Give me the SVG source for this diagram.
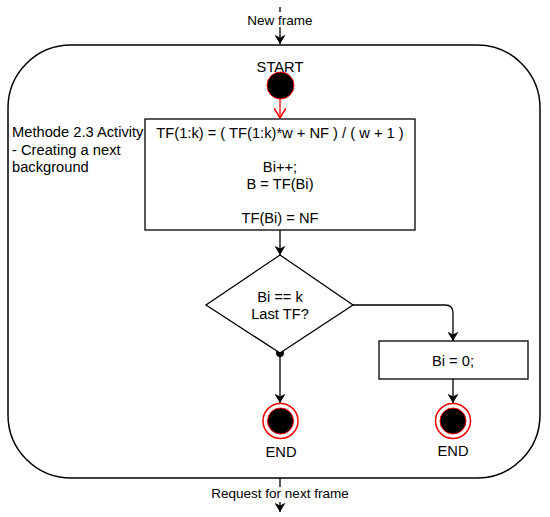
<svg xmlns="http://www.w3.org/2000/svg" width="550" height="517" viewBox="0 0 550 517">
<defs>
<marker id="arr" viewBox="0 0 10 12" refX="10" refY="6" markerWidth="11" markerHeight="11" markerUnits="userSpaceOnUse" orient="auto">
<path d="M0,0 L10,6 L0,12 L3,6 Z" fill="#000"/>
</marker>
<marker id="open" viewBox="0 0 10 12" refX="10" refY="6" markerWidth="10" markerHeight="12" markerUnits="userSpaceOnUse" orient="auto">
<path d="M0,0 L10,6 L0,12" fill="none" stroke="#ff0000" stroke-width="1.5"/>
</marker>
</defs>
<style>
text{font-family:"Liberation Sans",Arial,Helvetica,sans-serif;font-size:14.7px;fill:#000}
.lbl{font-size:13.5px}
.box{fill:#fff;stroke:#000;stroke-width:1.3}
.edge{fill:none;stroke:#000;stroke-width:1.3}
</style>
<rect width="550" height="517" fill="#fff"/>
<g id="container">
<rect x="8" y="45" width="532" height="433" rx="63" ry="63" fill="none" stroke="#000" stroke-width="1.5"/>
<text x="12" y="137">Methode 2.3 Activity</text>
<text x="12" y="155">- Creating a next</text>
<text x="12" y="172">background</text>
</g>
<g id="connectors">
<line class="edge" x1="280" y1="7" x2="280" y2="44" marker-end="url(#arr)"/>
<rect x="244" y="12" width="72" height="15" fill="#fff"/>
<text class="lbl" x="280" y="25" text-anchor="middle">New frame</text>
<line x1="280" y1="99" x2="280" y2="118" stroke="#ff0000" stroke-width="1.3" marker-end="url(#open)"/>
<line class="edge" x1="280" y1="230" x2="280" y2="255" marker-end="url(#arr)"/>
<path class="edge" d="M353,305 H445 Q453,305 453,313 V341" marker-end="url(#arr)"/>
<line class="edge" x1="280" y1="353" x2="280" y2="403" marker-end="url(#arr)"/>
<circle cx="280" cy="353" r="4" fill="#000"/>
<line class="edge" x1="453" y1="379" x2="453" y2="403" marker-end="url(#arr)"/>
<line class="edge" x1="280" y1="478" x2="280" y2="512" marker-end="url(#arr)"/>
<rect x="208" y="487" width="144" height="15" fill="#fff"/>
<text class="lbl" x="280" y="498" text-anchor="middle">Request for next frame</text>
</g>
<g id="start">
<text x="280" y="72" text-anchor="middle">START</text>
<circle cx="280.5" cy="85.5" r="13.5" fill="#000" stroke="#ff0000" stroke-width="1"/>
</g>
<g id="process">
<rect class="box" x="145" y="119" width="270" height="111"/>
<text x="280" y="138" text-anchor="middle">TF(1:k) = ( TF(1:k)*w + NF ) / ( w + 1 )</text>
<text x="280" y="172" text-anchor="middle">Bi++;</text>
<text x="280" y="189" text-anchor="middle">B = TF(Bi)</text>
<text x="280" y="223" text-anchor="middle">TF(Bi) = NF</text>
</g>
<g id="decision">
<path class="box" d="M280,255 L353,305 L280,353 L206,305 Z"/>
<text x="280" y="302" text-anchor="middle">Bi == k</text>
<text x="280" y="319" text-anchor="middle">Last TF?</text>
</g>
<g id="reset">
<rect class="box" x="379" y="341" width="149" height="38"/>
<text x="453" y="366" text-anchor="middle">Bi = 0;</text>
</g>
<g id="end1">
<circle cx="280.5" cy="421" r="17.5" fill="#fff" stroke="#ff0000" stroke-width="1.5"/>
<circle cx="280.5" cy="421" r="13" fill="#000" stroke="#ff0000" stroke-width="1"/>
<text x="281" y="457" text-anchor="middle">END</text>
</g>
<g id="end2">
<circle cx="453" cy="421" r="17.5" fill="#fff" stroke="#ff0000" stroke-width="1.5"/>
<circle cx="453" cy="421" r="13" fill="#000" stroke="#ff0000" stroke-width="1"/>
<text x="453" y="456" text-anchor="middle">END</text>
</g>
</svg>
